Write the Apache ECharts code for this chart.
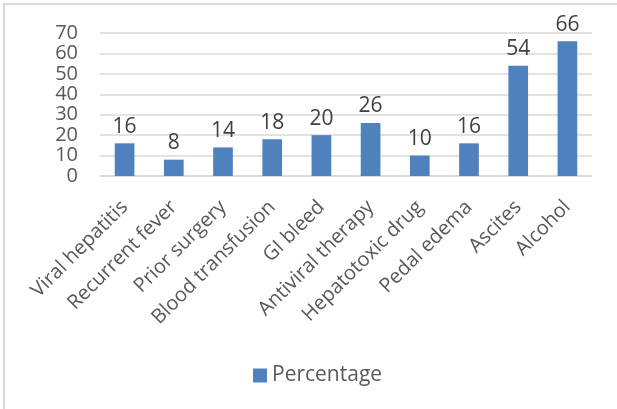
<!DOCTYPE html>
<html>
<head>
<meta charset="utf-8">
<script src="https://cdn.jsdelivr.net/npm/echarts@6/dist/echarts.min.js"></script>
<style>
  html, body { margin: 0; padding: 0; background: #fff; }
  #chart { width: 617px; height: 409px; }
</style>
</head>
<body>
<div id="chart"></div>
<script>
// Risk factors and their percentages
const categories = [
  'Viral hepatitis', 'Recurrent fever', 'Prior surgery', 'Blood transfusion',
  'GI bleed', 'Antiviral therapy', 'Hepatotoxic drug', 'Pedal edema',
  'Ascites', 'Alcohol'
];
const percentage = [16, 8, 14, 18, 20, 26, 10, 16, 54, 66];
const seriesName = 'Percentage';
const yTicks = { min: 0, max: 70, interval: 10 };

const FONT = '"Open Sans", "Noto Sans", sans-serif';
const TEXT = '#595959';

const chart = echarts.init(document.getElementById('chart'), null, { renderer: 'canvas' });
chart.setOption({
  backgroundColor: '#fff',
  animation: false,
  textStyle: { fontFamily: FONT },
  graphic: [{
    type: 'rect',
    shape: { x: 4, y: 4, width: 700, height: 500 },
    style: { fill: 'none', stroke: '#D9D9D9', lineWidth: 2 },
    silent: true
  }],
  grid: { left: 100, right: 25, top: 33, bottom: 233, containLabel: false },
  legend: {
    data: [seriesName],
    bottom: 23,
    left: 253,
    padding: 0,
    icon: 'rect',
    itemWidth: 14,
    itemHeight: 14,
    itemGap: 6,
    textStyle: { fontFamily: FONT, fontSize: 21, color: TEXT }
  },
  xAxis: {
    type: 'category',
    data: categories,
    axisLine: { show: true, lineStyle: { color: '#D9D9D9', width: 1.5 } },
    axisTick: { show: false },
    axisLabel: {
      interval: 0,
      rotate: 45,
      margin: 28,
      fontFamily: FONT,
      fontSize: 20,
      color: TEXT
    }
  },
  yAxis: {
    type: 'value',
    min: yTicks.min,
    max: yTicks.max,
    interval: yTicks.interval,
    axisLine: { show: false },
    axisTick: { show: false },
    splitLine: { lineStyle: { color: '#D9D9D9', width: 1.5 } },
    axisLabel: { fontFamily: FONT, fontSize: 20, color: TEXT, margin: 22, lineHeight: 20 }
  },
  series: [{
    name: seriesName,
    type: 'bar',
    data: percentage,
    barWidth: '40%',
    itemStyle: { color: '#4F81BD' },
    label: {
      show: true,
      position: 'top',
      distance: 6,
      fontFamily: FONT,
      fontSize: 21,
      color: '#404040'
    }
  }]
});
</script>
</body>
</html>
